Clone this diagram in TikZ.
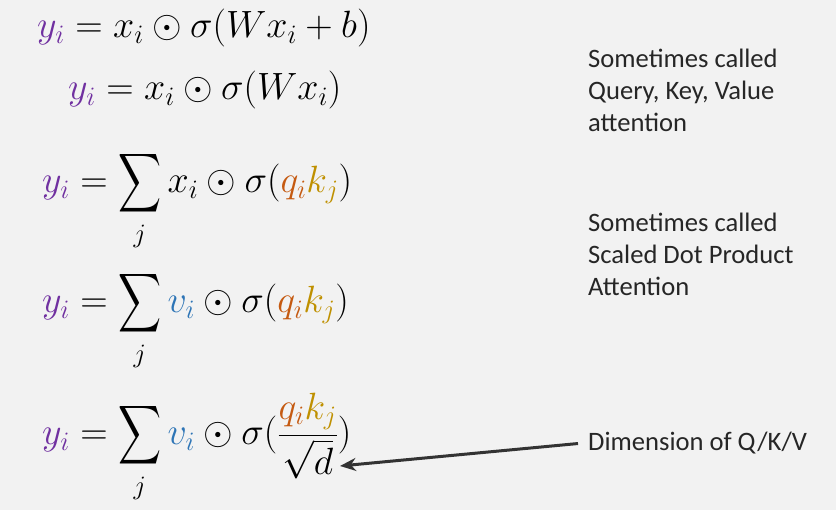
\RequirePackage{fix-cm}
\documentclass[tikz,border=0pt]{standalone}
\usepackage{amsmath}
\usepackage{fontspec}
\newfontfamily\calib{Carlito}
\usetikzlibrary{arrows.meta}
\definecolor{bgc}{HTML}{F2F2F2}
\definecolor{ycol}{HTML}{7030A0}
\definecolor{qcol}{HTML}{C55A11}
\definecolor{kcol}{HTML}{BF9000}
\definecolor{vcol}{HTML}{2E75B6}
\definecolor{txtc}{HTML}{262626}
\definecolor{arrc}{HTML}{333333}
\newcommand{\bigsum}{\mathop{\vcenter{\hbox{\scalebox{1.2}[1.65]{$\displaystyle\sum$}}}}\limits_{\rule{0pt}{22pt}j}}
\begin{document}
\begin{tikzpicture}[x=1pt,y=-1pt,
  eq/.style={anchor=base west,inner sep=0pt,font=\fontsize{38}{44}\selectfont},
  note/.style={anchor=base west,inner sep=0pt,align=left,text=txtc,font=\calib\fontsize{26.6}{32}\selectfont},
  pointer/.style={draw=arrc,line width=3pt,-{Stealth[length=16pt,width=13pt]}}]
\fill[bgc] (0,0) rectangle (836,510);
\useasboundingbox (0,0) rectangle (836,510);
\newcommand{\yy}{{\color{ycol}y_i}}
\newcommand{\qk}{{\color{qcol}q_i}{\color{kcol}k_j}}
\newcommand{\vv}{{\color{vcol}v_i}}
\node[eq] (e1) at (37,38) {$\yy = x_i \odot \sigma(W x_i + b)$};
\node[eq] (e2) at (68,100) {$\yy = x_i \odot \sigma(W x_i)$};
\node[eq] (e3) at (42,193) {$\displaystyle \yy = \bigsum x_i \odot \sigma(\qk)$};
\node[eq] (e4) at (42,313) {$\displaystyle \yy = \bigsum \vv \odot \sigma(\qk)$};
\node[eq] (e5) at (42,445) {$\displaystyle \yy = \bigsum \vv \odot \sigma(\frac{\qk}{\sqrt{d}})$};
\node[note] (n1) at (588,132) {Sometimes called\\Query, Key, Value\\attention};
\node[note] (n2) at (588,296) {Sometimes called\\Scaled Dot Product\\Attention};
\node[note,inner xsep=10pt] (dim) at (578,451) {Dimension of Q/K/V};
\coordinate (dtip) at (340,466);
\draw[pointer] (dim.west) -- (dtip);
\end{tikzpicture}
\end{document}
